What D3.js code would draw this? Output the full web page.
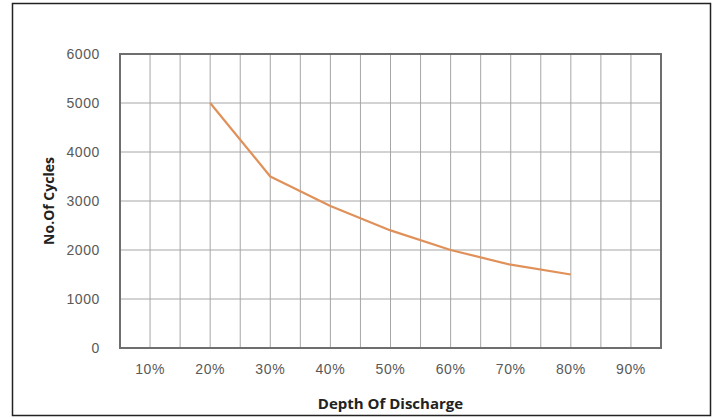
<!DOCTYPE html>
<html>
<head>
<meta charset="utf-8">
<script src="https://cdn.jsdelivr.net/npm/d3@7"></script>
<style>
  body { margin: 0; background: #fff; }
  svg { display: block; font-family: "Open Sans", "DejaVu Sans", sans-serif; }
</style>
</head>
<body>
<svg id="chart" width="718" height="418"></svg>
<script>
// depth of discharge categories and cycle counts
let categories = ["10%", "20%", "30%", "40%", "50%", "60%", "70%", "80%", "90%"];
let dodPoints = ["20%", "30%", "40%", "50%", "60%", "70%", "80%"];
let cycles = [5000, 3500, 2900, 2400, 2000, 1700, 1500];
let yTicks = [0, 1000, 2000, 3000, 4000, 5000, 6000];

let svg = d3.select("#chart");
let margin = { left: 120, top: 54, right: 57, bottom: 70 };
let width = 718 - margin.left - margin.right;
let height = 418 - margin.top - margin.bottom;

// outer frame
svg.append("rect")
    .attr("x", 12.5).attr("y", 3.5)
    .attr("width", 698).attr("height", 412)
    .attr("fill", "#fff")
    .attr("stroke", "#222")
    .attr("stroke-width", 1.5);

let g = svg.append("g").attr("transform", `translate(${margin.left},${margin.top})`);

let x = d3.scaleBand().domain(categories).range([0, width]);
let y = d3.scaleLinear().domain([0, 6000]).range([height, 0]);

// vertical gridlines at band edges and band centres
let gridX = [];
categories.forEach(c => {
    gridX.push(x(c));
    gridX.push(x(c) + x.bandwidth() / 2);
});

g.selectAll(".vgrid")
    .data(gridX)
    .enter().append("line")
    .attr("x1", d => d).attr("x2", d => d)
    .attr("y1", 0).attr("y2", height)
    .attr("stroke", "#a6a6a6")
    .attr("stroke-width", 1);

g.selectAll(".hgrid")
    .data(yTicks)
    .enter().append("line")
    .attr("x1", 0).attr("x2", width)
    .attr("y1", d => y(d)).attr("y2", d => y(d))
    .attr("stroke", "#a6a6a6")
    .attr("stroke-width", 1);

// plot border
g.append("rect")
    .attr("x", 0).attr("y", 0)
    .attr("width", width).attr("height", height)
    .attr("fill", "none")
    .attr("stroke", "#6e6e6e")
    .attr("stroke-width", 2);

// axes
let yAxis = g.append("g")
    .call(d3.axisLeft(y).tickValues(yTicks).tickFormat(d3.format("d")).tickSize(0).tickPadding(20));
yAxis.select(".domain").remove();
yAxis.selectAll("text")
    .attr("fill", "#595959")
    .attr("font-size", "14px")
    .attr("letter-spacing", "0.6px");

let xAxis = g.append("g")
    .attr("transform", `translate(0,${height})`)
    .call(d3.axisBottom(x).tickSize(0).tickPadding(16));
xAxis.select(".domain").remove();
xAxis.selectAll("text")
    .attr("fill", "#595959")
    .attr("font-size", "14px")
    .attr("letter-spacing", "0.6px");

// line
let line = d3.line()
    .x((d, i) => x(dodPoints[i]) + x.bandwidth() / 2)
    .y(d => y(d));

g.append("path")
    .datum(cycles)
    .attr("fill", "none")
    .attr("stroke", "#e0915a")
    .attr("stroke-width", 2.2)
    .attr("stroke-linejoin", "round")
    .attr("d", line);

// axis titles
svg.append("text")
    .attr("x", margin.left + width / 2)
    .attr("y", 409)
    .attr("text-anchor", "middle")
    .attr("font-size", "15px")
    .attr("font-weight", "bold")
    .attr("fill", "#222")
    .text("Depth Of Discharge");

svg.append("text")
    .attr("transform", `translate(54,${margin.top + height / 2}) rotate(-90)`)
    .attr("text-anchor", "middle")
    .attr("font-size", "14px")
    .attr("font-weight", "bold")
    .attr("fill", "#222")
    .text("No.Of Cycles");
</script>
</body>
</html>
